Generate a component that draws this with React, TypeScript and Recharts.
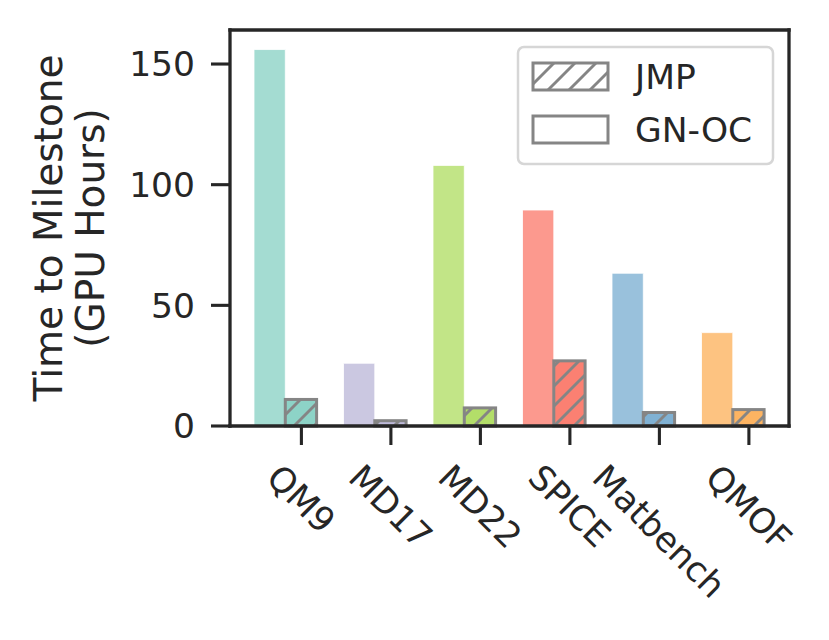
import React from "react";
import { BarChart, Bar, XAxis, YAxis, Cell } from "recharts";

// ---- data ----
const categories = ["QM9", "MD17", "MD22", "SPICE", "Matbench", "QMOF"];
const gnocHours = [156, 26, 108, 89.5, 63.3, 38.7];
const jmpHours = [11, 2.2, 7.5, 27, 5.6, 6.8];
const yTicks = [0, 50, 100, 150];

const data = categories.map((name, i) => ({ name, gnoc: gnocHours[i], jmp: jmpHours[i] }));

// ---- style ----
const COLORS = ["#8dd3c7", "#bebada", "#b3de69", "#fb8072", "#80b1d3", "#fdb462"];
const EDGE = "#858585";
const INK = "#262626";
const FONT = "DejaVu Sans";
const TICK_FS = 34.5;
const BAR_SIZE = 31.3;
const SPINE = 3.3;

const W: Record<string, number> = {
  Q: 0.787, M: 0.863, "9": 0.636, D: 0.77, "1": 0.636, "7": 0.636, "2": 0.636,
  S: 0.635, P: 0.603, I: 0.295, C: 0.698, E: 0.632, a: 0.613, t: 0.392, b: 0.635,
  e: 0.615, n: 0.634, c: 0.55, h: 0.634, O: 0.787, F: 0.575,
};
const textWidth = (s: string, fs: number) =>
  s.split("").reduce((acc, ch) => acc + (W[ch] ?? 0.6), 0) * fs;

const XTick = (props: any) => {
  const { x, y, payload } = props;
  const tx = x + BAR_SIZE / 2;
  const w = textWidth(String(payload.value), TICK_FS) - 0.1 * TICK_FS;
  const cy = y + 37 + (w + 0.74 * TICK_FS) * 0.35355;
  return (
    <g>
      <line x1={tx} y1={y} x2={tx} y2={y + 19} stroke={INK} strokeWidth={3.1} />
      <text
        x={tx}
        y={cy}
        dy="0.36em"
        textAnchor="middle"
        transform={`rotate(45 ${tx} ${cy})`}
        fontSize={TICK_FS}
        fontFamily={FONT}
        fill={INK}
      >
        {payload.value}
      </text>
    </g>
  );
};

const HatchBar = (props: any) => {
  const { x, y, width, height, index } = props;
  const c = COLORS[index];
  return (
    <g>
      <rect x={x} y={y} width={width} height={height} fill={c} />
      <rect x={x} y={y} width={width} height={height} fill="url(#hatch)" />
      <rect x={x} y={y} width={width} height={height} fill="none" stroke={EDGE} strokeWidth={3} />
    </g>
  );
};

const axisLineStyle = { stroke: INK, strokeWidth: SPINE, strokeLinecap: "square" as const };

export default function App() {
  return (
    <div style={{ position: "relative", width: 829, height: 640, background: "#fff" }}>
      <style>{`body{margin:0;background:#fff}`}</style>
      <BarChart
        width={829}
        height={640}
        data={data}
        margin={{ top: 29, right: 39, bottom: 14, left: 0 }}
        barGap={0}
        barSize={BAR_SIZE}
      >
        <defs>
          <pattern id="hatch" patternUnits="userSpaceOnUse" width="20" height="20">
            <path d="M-5,5 l10,-10 M0,20 l20,-20 M15,25 l10,-10" stroke={EDGE} strokeWidth={2.9} />
          </pattern>
        </defs>
        <XAxis
          dataKey="name"
          type="category"
          interval={0}
          height={200}
          padding={{ left: 11, right: 11 }}
          tickLine={false}
          tickSize={0}
          tickMargin={0}
          axisLine={axisLineStyle}
          tick={<XTick />}
        />
        <XAxis
          xAxisId="top"
          dataKey="name"
          orientation="top"
          height={1}
          tick={false}
          tickLine={false}
          axisLine={axisLineStyle}
        />
        <YAxis
          type="number"
          domain={[0, 164.1]}
          ticks={yTicks}
          width={230}
          tickSize={19}
          tickMargin={16}
          tickLine={{ stroke: INK, strokeWidth: 3.1 }}
          axisLine={axisLineStyle}
          tick={{ fontSize: TICK_FS, fontFamily: FONT, fill: INK }}
        />
        <YAxis
          yAxisId="right"
          orientation="right"
          type="number"
          domain={[0, 1]}
          width={1}
          tick={false}
          tickLine={false}
          axisLine={axisLineStyle}
        />
        <Bar dataKey="gnoc" name="GN-OC" isAnimationActive={false} stroke="#ffffff" strokeWidth={1} strokeOpacity={0.8}>
          {data.map((d, i) => (
            <Cell key={d.name} fill={COLORS[i]} fillOpacity={0.8} />
          ))}
        </Bar>
        <Bar dataKey="jmp" name="JMP" isAnimationActive={false} shape={<HatchBar />}>
          {data.map((d, i) => (
            <Cell key={d.name} fill={COLORS[i]} />
          ))}
        </Bar>
      </BarChart>
      <svg
        width={829}
        height={640}
        style={{ position: "absolute", left: 0, top: 0, pointerEvents: "none" }}
      >
        <defs>
          <pattern id="hatchLegend" patternUnits="userSpaceOnUse" width="21" height="21" x="533" y="63">
            <path d="M-5,5 l10,-10 M0,21 l21,-21 M16,26 l10,-10" stroke={EDGE} strokeWidth={2.9} />
          </pattern>
        </defs>
        <g transform="translate(62,228) rotate(-90)">
          <text x={0} y={0} textAnchor="middle" fontSize={39} fontFamily={FONT} fill={INK}>
            Time to Milestone
          </text>
        </g>
        <g transform="translate(104,228) rotate(-90)">
          <text x={0} y={0} textAnchor="middle" fontSize={39} fontFamily={FONT} fill={INK}>
            (GPU Hours)
          </text>
        </g>
        <rect x={518} y={47} width={255} height={117} rx={6} fill="#ffffff" fillOpacity={0.8} stroke="#d6d6d6" strokeWidth={2.5} />
        <rect x={533} y={63} width={75} height={27} fill="#ffffff" />
        <rect x={533} y={63} width={75} height={27} fill="url(#hatchLegend)" stroke={EDGE} strokeWidth={3} />
        <rect x={533} y={116} width={75} height={27} fill="#ffffff" stroke={EDGE} strokeWidth={3} />
        <text x={635} y={77} dy="0.36em" fontSize={TICK_FS} fontFamily={FONT} fill={INK}>
          JMP
        </text>
        <text x={635} y={130} dy="0.36em" fontSize={TICK_FS} fontFamily={FONT} fill={INK}>
          GN-OC
        </text>
      </svg>
    </div>
  );
}
